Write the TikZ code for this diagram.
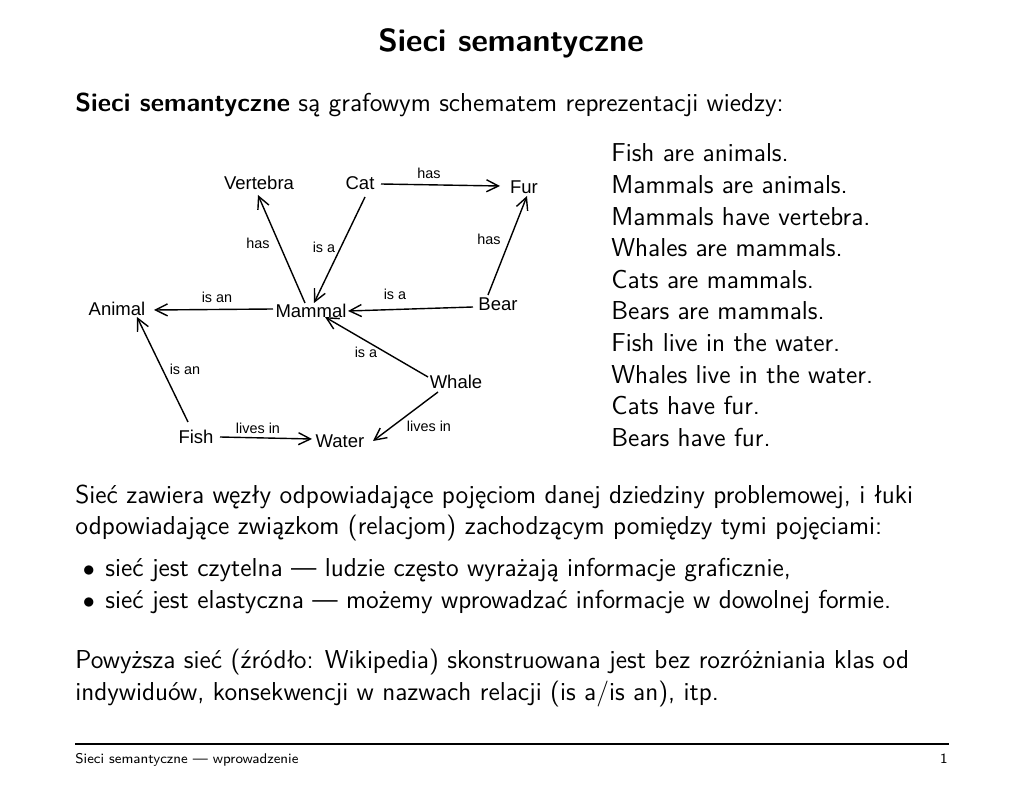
\documentclass[tikz,border=0pt]{standalone}
\usepackage{fontspec}
\newfontfamily\arialf{Liberation Sans}
\usetikzlibrary{arrows.meta,calc}
\begin{document}
\begin{tikzpicture}[x=0.5pt,y=-0.5pt,
  body/.style={anchor=base west,inner sep=0,font=\sffamily\fontsize{12.95}{15}\selectfont},
  title/.style={anchor=base,inner sep=0,font=\sffamily\bfseries\fontsize{16}{19}\selectfont},
  foot/.style={inner sep=0,font=\sffamily\fontsize{7.05}{9}\selectfont},
  concept/.style={inner sep=0,font=\arialf\fontsize{9.25}{11}\selectfont},
  rel/.style={inner sep=0,font=\arialf\fontsize{7.2}{9}\selectfont},
  arr/.style={-{Straight Barb[length=6pt,width=6pt]},line width=0.7pt},
]
\useasboundingbox (0,0) rectangle (1024,791);
% title and header text
\node[title] (ttl) at (511,52) {Sieci semantyczne};
\node[body] (intro) at (75,112) {\textbf{Sieci semantyczne} są grafowym schematem reprezentacji wiedzy:};
% facts list
\node[body] (f1) at (611,162.0) {Fish are animals.};
\node[body] (f2) at (611,193.6) {Mammals are animals.};
\node[body] (f3) at (611,225.2) {Mammals have vertebra.};
\node[body] (f4) at (611,256.8) {Whales are mammals.};
\node[body] (f5) at (611,288.4) {Cats are mammals.};
\node[body] (f6) at (611,320.0) {Bears are mammals.};
\node[body] (f7) at (611,351.6) {Fish live in the water.};
\node[body] (f8) at (611,383.2) {Whales live in the water.};
\node[body] (f9) at (611,414.8) {Cats have fur.};
\node[body] (f10) at (611,446.4) {Bears have fur.};
% diagram nodes
\node[concept] (vertebra) at (259,183) {Vertebra};
\node[concept] (cat) at (360,183) {Cat};
\node[concept] (fur) at (524,187) {Fur};
\node[concept] (animal) at (117,309) {Animal};
\node[concept] (mammal) at (311,311) {Mammal};
\node[concept] (bear) at (498,304) {Bear};
\node[concept] (whale) at (456,382) {Whale};
\node[concept] (fish) at (196,437) {Fish};
\node[concept] (water) at (340,441) {Water};
% connectors
\draw[arr] ($(mammal)+(-6,-8)$) -- ($(vertebra)+(-1,12)$);
\draw[arr] ($(cat)+(5,14)$) -- ($(mammal)+(3,-8)$);
\draw[arr] ($(mammal)+(-38,-2)$) -- ($(animal)+(37,1)$);
\draw[arr] ($(cat)+(21,1)$) -- ($(fur)+(-24,-1)$);
\draw[arr] ($(bear)+(-10,-9)$) -- ($(fur)+(3,9)$);
\draw[arr] ($(bear)+(-25,3)$) -- ($(mammal)+(37,0)$);
\draw[arr] ($(fish)+(-8,-15)$) -- ($(animal)+(20,8)$);
\draw[arr] ($(whale)+(-28,-5)$) -- ($(mammal)+(14,6)$);
\draw[arr] ($(fish)+(24,0)$) -- ($(water)+(-28,-2)$);
\draw[arr] ($(whale)+(-18,10)$) -- ($(water)+(33,0)$);
% relation labels
\node[rel] (l1) at (258,243) {has};
\node[rel] (l2) at (324,247) {is a};
\node[rel] (l3) at (217,297) {is an};
\node[rel] (l4) at (429,173) {has};
\node[rel] (l5) at (489,239) {has};
\node[rel] (l6) at (395,294) {is a};
\node[rel] (l7) at (185,369) {is an};
\node[rel] (l8) at (366,352) {is a};
\node[rel] (l9) at (258,428) {lives in};
\node[rel] (l10) at (429,426) {lives in};
% paragraphs
\node[body] (p1) at (75,503.3) {Sieć zawiera węzły odpowiadające pojęciom danej dziedziny problemowej, i łuki};
\node[body] (p2) at (75,534.6) {odpowiadające związkom (relacjom) zachodzącym pomiędzy tymi pojęciami:};
\node[body,anchor=base] (b1) at (89,576.5) {$\bullet$};
\node[body] (i1) at (105,576.5) {sieć jest czytelna --- ludzie często wyrażają informacje graficznie,};
\node[body,anchor=base] (b2) at (89,608.5) {$\bullet$};
\node[body] (i2) at (105,608.5) {sieć jest elastyczna --- możemy wprowadzać informacje w dowolnej formie.};
\node[body] (q1) at (75,668.5) {Powyższa sieć (źródło: Wikipedia) skonstruowana jest bez rozróżniania klas od};
\node[body] (q2) at (75,700) {indywiduów, konsekwencji w nazwach relacji (is a/is an), itp.};
% footer
\coordinate (rl) at (75,744);
\coordinate (rr) at (949,744);
\draw[line width=1pt] (rl) -- (rr);
\node[foot,anchor=base west] (ft) at (75,763) {Sieci semantyczne --- wprowadzenie};
\node[foot,anchor=base east] (pg) at (948,763) {1};
\end{tikzpicture}
\end{document}
